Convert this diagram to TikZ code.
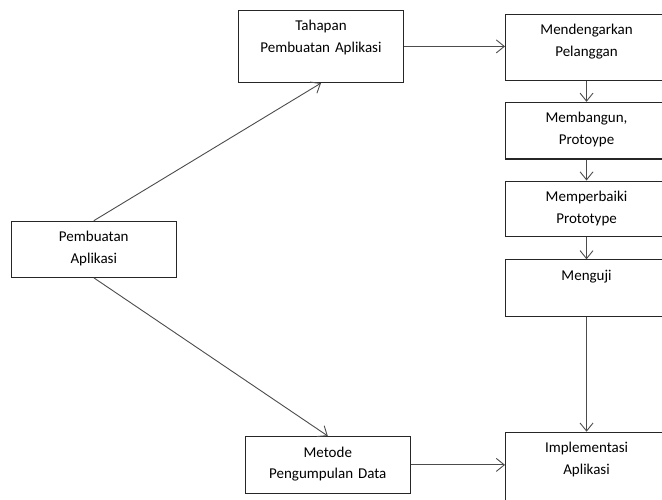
\documentclass[tikz,border=0pt]{standalone}
\usepackage{fontspec}
\setmainfont{Carlito}
\usetikzlibrary{arrows.meta,positioning}
\tikzset{
  every picture/.style = {
    line width = 0.9pt,
    >={Straight Barb[length=8pt,width=13pt]},
    x = 1pt,
    y = -1pt
  }
  ,
  stage/.style = {
    rectangle,
    draw = black!85,
    line width = 1.1pt,
    font = \fontsize{15}{21.6}\selectfont,
    align = center,
    anchor = north west,
    inner sep = 0pt,
    text width = 164.5pt,
    text height = 20.5pt
  }
  , % boxes of the right column
  stage-right/.style = {
    stage,
    text width = 162pt
  }
  , % connectors
  link/.style = {
    draw = black!70,
    line width = 0.9pt
  }
}

\begin{document}
\begin{tikzpicture}[->]
\useasboundingbox (0,0) rectangle (662,499);
\clip (0,0) rectangle (662,499);
\node [stage, text depth=35.5pt] (pa) at (11,220.7) {Pembuatan\\Aplikasi};
\node [stage, text depth=51.8pt] (tpa) at (238.2,9.7) {Tahapan\\Pembuatan Aplikasi};
\node [stage, text depth=36.2pt] (mpd) at (245,436) {Metode\\Pengumpulan Data};

\node [stage-right, text depth=45.5pt] (mp) at (505,13.7) {Mendengarkan\\Pelanggan};
\node [stage-right, below = 21pt of mp, text depth=36.1pt] (mbp) {Membangun,\\Protoype};
\node [stage-right, below = 21pt of mbp, text depth=34.9pt] (mpp) {Memperbaiki\\Prototype};
\node [stage-right, below = 22.3pt of mpp, text depth=36.5pt] (mgj) {Menguji};
\node [stage-right, below = 114.3pt of mgj, text depth=69.5pt] (ia) {Implementasi\\Aplikasi};

\path (pa.north) edge[link] (tpa.south);
\path (pa.south) edge[link] (mpd.north);
\path (tpa.east) edge[link] (tpa.east -| mp.west);
\path (mp) edge[link] (mbp);
\path (mbp) edge[link] (mpp);
\path (mpp) edge[link] (mgj);
\path (mgj) edge[link] (ia);
\path (mpd.east) edge[link] (mpd.east -| ia.west);
\end{tikzpicture}
\end{document}
